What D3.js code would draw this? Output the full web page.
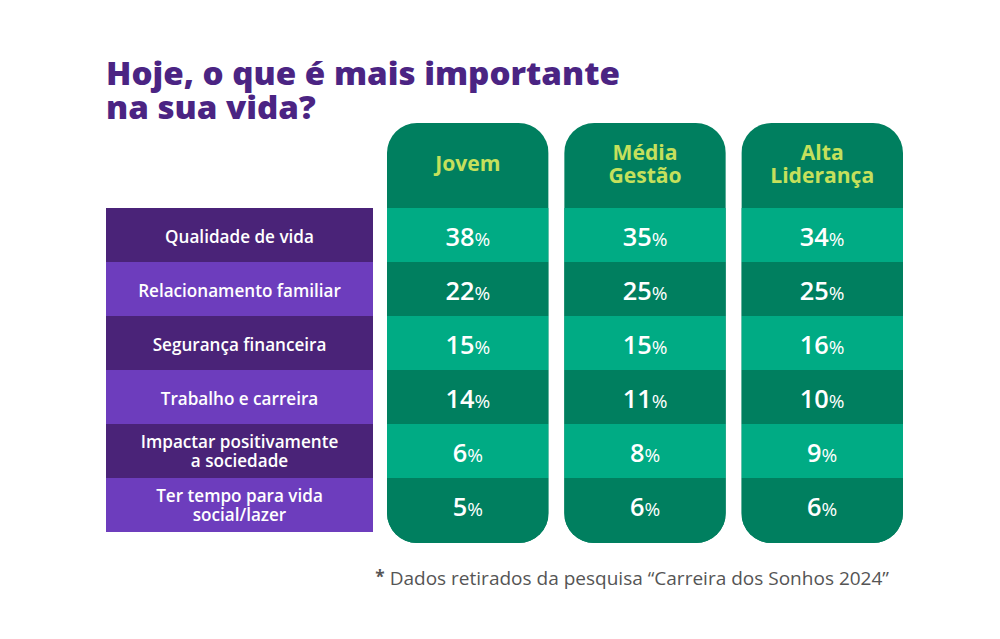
<!DOCTYPE html>
<html><head><meta charset="utf-8">
<script src="https://cdn.jsdelivr.net/npm/d3@7"></script>
<style>body{margin:0;background:#fff}svg{display:block}</style>
</head><body>
<svg id="c" width="1000" height="639"></svg>
<script>
const titleLines = ["Hoje, o que é mais importante", "na sua vida?"];
const categories = [["Qualidade de vida"], ["Relacionamento familiar"], ["Segurança financeira"], ["Trabalho e carreira"], ["Impactar positivamente", "a sociedade"], ["Ter tempo para vida", "social/lazer"]];
const groups = [["Jovem"], ["Média", "Gestão"], ["Alta", "Liderança"]];
const jovem = [38, 22, 15, 14, 6, 5];
const mediaGestao = [35, 25, 15, 11, 8, 6];
const altaLideranca = [34, 25, 16, 10, 9, 6];
const footnote = "Dados retirados da pesquisa “Carreira dos Sonhos 2024”";

const series = [jovem, mediaGestao, altaLideranca];
const svg = d3.select("#c");
const font = "'Open Sans', Lato, sans-serif";

function textWidth(str, weight, size) {
  const t = svg.append("text").attr("font-family", font).attr("font-weight", weight)
    .attr("font-size", size).text(str);
  const w = t.node().getComputedTextLength();
  t.remove();
  return w;
}
function fitSize(str, weight, target, base) {
  return base * target / textWidth(str, weight, base);
}

const labelSize = fitSize("Relacionamento familiar", 600, 203, 16);
const headSize = fitSize("Liderança", 700, 104, 22);
const valSize = fitSize("38", 600, 29, 25);
const footSize = fitSize(footnote, 400, 500, 17);

const y = d3.scaleBand().domain(d3.range(categories.length)).range([208, 532]).padding(0);
const x = d3.scaleBand().domain(d3.range(groups.length)).range([387, 903]).paddingInner(0.088).paddingOuter(0);

// title (stretched horizontally to mimic the wide display face)
const titleSize = 31;
const sx = 514 / textWidth(titleLines[0], 800, titleSize);
svg.append("g").attr("transform", `translate(106,0) scale(${sx},1)`)
  .selectAll("text").data(titleLines).join("text")
  .attr("x", 0).attr("y", (d, i) => 85 + i * 34)
  .attr("fill", "#4b2483").attr("font-family", font).attr("font-weight", 800)
  .attr("font-size", titleSize).text(d => d);

// labels
const lg = svg.append("g");
lg.selectAll("rect").data(categories).join("rect")
  .attr("x", 106).attr("width", 267).attr("y", (d, i) => y(i)).attr("height", y.bandwidth())
  .attr("fill", (d, i) => i % 2 === 0 ? "#4a2378" : "#6d3dbd");
lg.selectAll("text").data(categories).join("text")
  .attr("x", 239.5)
  .attr("y", (d, i) => y(i) + y.bandwidth() / 2 + 8 - (d.length - 1) * 11)
  .attr("text-anchor", "middle").attr("fill", "#fff").attr("font-family", font)
  .attr("font-weight", 600).attr("font-size", labelSize)
  .each(function(d) {
    d3.select(this).selectAll("tspan").data(d).join("tspan")
      .attr("x", 239.5).attr("dy", (t, j) => j === 0 ? 0 : 19).text(t => t);
  });

// columns
const colTop = 123, colBottom = 543, r = 30;
const defs = svg.append("defs");
const cols = svg.append("g").selectAll("g").data(groups).join("g");
cols.each(function(g, gi) {
  const el = d3.select(this);
  const x0 = x(gi), w = x.bandwidth();
  const clipId = "clip" + gi;
  defs.append("clipPath").attr("id", clipId)
    .append("rect").attr("x", x0).attr("y", colTop).attr("width", w).attr("height", colBottom - colTop).attr("rx", r).attr("ry", r);
  const inner = el.append("g").attr("clip-path", `url(#${clipId})`);
  inner.append("rect").attr("x", x0).attr("y", colTop).attr("width", w).attr("height", colBottom - colTop).attr("fill", "#007f5f");
  inner.selectAll("rect.row").data(series[gi]).join("rect").attr("class", "row")
    .attr("x", x0).attr("width", w).attr("y", (d, i) => y(i))
    .attr("height", (d, i) => i === series[gi].length - 1 ? colBottom - y(i) : y.bandwidth())
    .attr("fill", (d, i) => i % 2 === 0 ? "#00ab84" : "#007f5f");
  // header text
  el.append("g").selectAll("text").data(g).join("text").attr("text-anchor", "middle").attr("fill", "#c5e05c")
    .attr("font-family", font).attr("font-weight", 700).attr("font-size", headSize)
    .attr("x", x0 + w / 2)
    .attr("y", (t, j) => 171 - (g.length - 1) * 11 + j * 23).text(t => t);
  // values
  const vt = el.selectAll("text.val").data(series[gi]).join("text").attr("class", "val")
    .attr("x", x0 + w / 2).attr("y", (d, i) => y(i) + y.bandwidth() / 2 + 11)
    .attr("text-anchor", "middle").attr("fill", "#fff").attr("font-family", font);
  vt.append("tspan").attr("font-size", valSize).attr("font-weight", 600).text(d => d);
  vt.append("tspan").attr("font-size", 19).attr("font-weight", 400).text("%");
});

// footnote
const fn = svg.append("text").attr("x", 889).attr("y", 585).attr("text-anchor", "end")
  .attr("fill", "#555").attr("font-family", font).attr("font-size", footSize);
fn.append("tspan").attr("font-size", footSize * 0.9).attr("font-weight", 700).attr("dy", -2).text("*");
fn.append("tspan").attr("dy", 2).text(" " + footnote);
</script>
</body></html>
